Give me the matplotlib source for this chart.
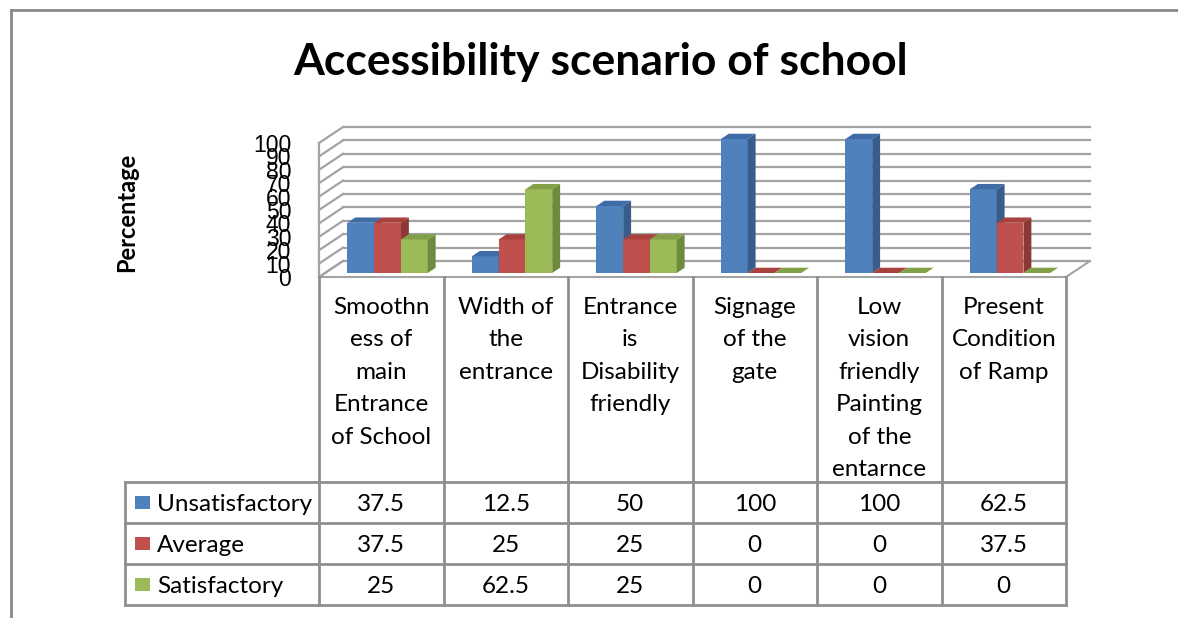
import numpy as np
import matplotlib.pyplot as plt
from matplotlib.patches import Polygon, Rectangle
from matplotlib.lines import Line2D

plt.rcParams['font.family'] = ['Lato', 'DejaVu Sans']

categories = ["Smoothn\ness of\nmain\nEntrance\nof School",
              "Width of\nthe\nentrance",
              "Entrance\nis\nDisability\nfriendly",
              "Signage\nof the\ngate",
              "Low\nvision\nfriendly\nPainting\nof the\nentarnce",
              "Present\nCondition\nof Ramp"]
series = ["Unsatisfactory", "Average", "Satisfactory"]
unsatisfactory = [37.5, 12.5, 50, 100, 100, 62.5]
average = [37.5, 25, 25, 0, 0, 37.5]
satisfactory = [25, 62.5, 25, 0, 0, 0]
y_ticks = list(range(0, 101, 10))

values = [unsatisfactory, average, satisfactory]
# front, top and side shades for each series
colors = [("#4F81BD", "#3F6CA6", "#385D8A"),
          ("#C0504D", "#A8413E", "#8C3836"),
          ("#9BBB59", "#82A047", "#6E8A3E")]

W, H = 1178, 618
fig = plt.figure(figsize=(W / 100, H / 100), dpi=100)

# plot area: front plane spans x 319..1066 px, y 277 (0) .. 143 (100) px
ax = fig.add_axes([319 / W, (H - 277) / H, 747 / W, 134 / H])
ncat = len(categories)
ax.set_xlim(0, ncat)
ax.set_ylim(0, 100)
for s in ax.spines.values():
    s.set_visible(False)
ax.set_xticks([])
ax.set_yticks(y_ticks)
ax.set_yticklabels([str(t) for t in y_ticks], fontsize=16.5, family=['Liberation Sans', 'DejaVu Sans'])
ax.tick_params(axis='y', length=0, pad=20)

# depth offset of the 3d box in data units
ddx = 24 / (747 / ncat)
ddy = 16 / 1.34
grid_c = "#a3a3a3"

# floor
ax.add_patch(Polygon([(0, 0), (ncat, 0), (ncat + ddx, ddy), (ddx, ddy)],
                     closed=True, facecolor="white", edgecolor=grid_c, lw=1.5, clip_on=False, zorder=1))
# back wall and side wall gridlines
for v in y_ticks:
    ax.add_line(Line2D([ddx, ncat + ddx], [v + ddy, v + ddy], color=grid_c, lw=1.6, clip_on=False, zorder=1))
    ax.add_line(Line2D([0, ddx], [v, v + ddy], color=grid_c, lw=1.6, clip_on=False, zorder=1))
ax.add_line(Line2D([0, 0], [0, 100], color=grid_c, lw=1.6, clip_on=False, zorder=1))

# 3d columns
bar_w = 0.215
start = 0.18
d0, d1 = 0.25, 0.58
for i in range(ncat):
    for j, vals in enumerate(values):
        h = vals[i]
        x = i + start + j * bar_w
        front, top, side = colors[j]
        xa, ya = x + d0 * ddx, d0 * ddy
        xb, yb = x + d1 * ddx, d1 * ddy
        if h > 0:
            ax.add_patch(Polygon([(xa, ya), (xa + bar_w, ya), (xa + bar_w, ya + h), (xa, ya + h)],
                                 closed=True, facecolor=front, edgecolor="none", clip_on=False, zorder=2))
            ax.add_patch(Polygon([(xa + bar_w, ya), (xb + bar_w, yb), (xb + bar_w, yb + h), (xa + bar_w, ya + h)],
                                 closed=True, facecolor=side, edgecolor="none", clip_on=False, zorder=2))
        ax.add_patch(Polygon([(xa, ya + h), (xa + bar_w, ya + h), (xb + bar_w, yb + h), (xb, yb + h)],
                             closed=True, facecolor=top, edgecolor="none", clip_on=False, zorder=2))

# data table below the plot
left_w = (319 - 125) / (747 / ncat)
tax = fig.add_axes([125 / W, (H - 605) / H, 941 / W, 328 / H])
tax.set_xlim(-left_w, ncat)
tax.set_ylim(0, 8)
tax.axis("off")
line_c = "#8f8f8f"
for k in range(ncat + 1):
    tax.add_line(Line2D([k, k], [0, 8], color=line_c, lw=2, clip_on=False))
tax.add_line(Line2D([-left_w, -left_w], [0, 3], color=line_c, lw=2, clip_on=False))
for r in range(4):
    tax.add_line(Line2D([-left_w, ncat], [r, r], color=line_c, lw=2, clip_on=False))

for i, cat in enumerate(categories):
    tax.text(i + 0.5, 7.52, cat, ha="center", va="top", fontsize=17.5, linespacing=1.68)

for j, (name, vals) in enumerate(zip(series, values)):
    yc = 2.5 - j
    tax.add_patch(Rectangle((-left_w + 0.08, yc - 0.17), 0.12, 0.34, facecolor=colors[j][0],
                            edgecolor="none", clip_on=False))
    tax.text(-left_w + 0.255, yc - 0.06, name, ha="left", va="center", fontsize=17.5)
    for i, v in enumerate(vals):
        tax.text(i + 0.5, yc - 0.06, f"{v:g}", ha="center", va="center", fontsize=17.5)

fig.text(601 / W, 1 - 62 / H, "Accessibility scenario of school", ha="center", va="center",
         fontsize=32, fontweight="bold")
fig.text(127 / W, 1 - 212 / H, "Percentage", ha="center", va="center", rotation=90,
         fontsize=17, fontweight="bold")

# outer chart frame (left and top edges)
fig.add_artist(Line2D([11 / W, 11 / W], [0, 1 - 10 / H], color="#8a8a8a", lw=2))
fig.add_artist(Line2D([11 / W, 1], [1 - 10 / H, 1 - 10 / H], color="#8a8a8a", lw=2))

fig.savefig("out.png", dpi=100)
